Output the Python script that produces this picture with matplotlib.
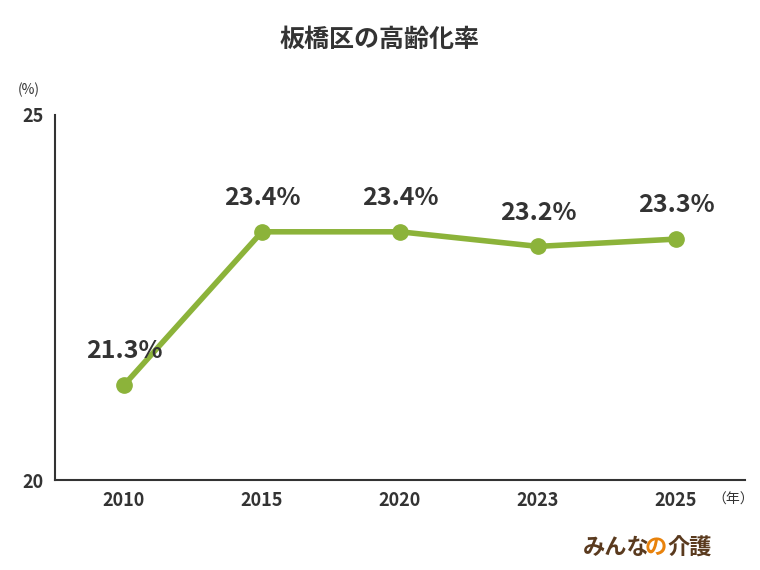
import matplotlib
matplotlib.use("Agg")
import matplotlib.pyplot as plt

years = ["2010", "2015", "2020", "2023", "2025"]
values = [21.3, 23.4, 23.4, 23.2, 23.3]
labels = ["21.3%", "23.4%", "23.4%", "23.2%", "23.3%"]

plt.rcParams['font.family'] = ['Noto Sans CJK JP', 'DejaVu Sans']
fig = plt.figure(figsize=(7.6, 5.7), dpi=100)
ax = fig.add_axes([55/760, 1-480/570, 690/760, 365/570])
green = "#8cb33a"
x = list(range(len(years)))
ax.plot(x, values, color=green, lw=4, marker="o", ms=11, zorder=3)
for xi, v, l in zip(x, values, labels):
    ax.text(xi, v + 0.3, l, ha="center", va="bottom", fontsize=18, fontweight="bold", color="#333333")
ax.set_xlim(-0.5, 4.5)
ax.set_ylim(20, 25)
ax.set_yticks([20, 25])
ax.set_yticklabels(["20", "25"], fontsize=13, fontweight="bold", color="#333333")
ax.set_xticks(x)
ax.set_xticklabels(years, fontsize=13, fontweight="bold", color="#333333")
ax.tick_params(length=0, pad=8)
for s in ["top", "right"]:
    ax.spines[s].set_visible(False)
for s in ["left", "bottom"]:
    ax.spines[s].set_color("#333333")
    ax.spines[s].set_linewidth(1.5)
fig.text(18/760, 1-90/570, "(%)", fontsize=10, color="#333333", va="center")
fig.text(712/760, 1-500/570, "（年）", fontsize=10, color="#333333", va="center")
fig.text(380/760, 1-40/570, "板橋区の高齢化率", ha="center", va="center", fontsize=18, fontweight="bold", color="#333333")
brown = "#5a3a1e"
fig.text(583/760, 1-548/570, "みんな", fontsize=16, fontweight="bold", color=brown, va="center")
fig.text(645/760, 1-548/570, "の", fontsize=16, fontweight="bold", color="#e8820c", va="center")
fig.text(667/760, 1-548/570, "介護", fontsize=16, fontweight="bold", color=brown, va="center")
fig.savefig("out.png", dpi=100)
